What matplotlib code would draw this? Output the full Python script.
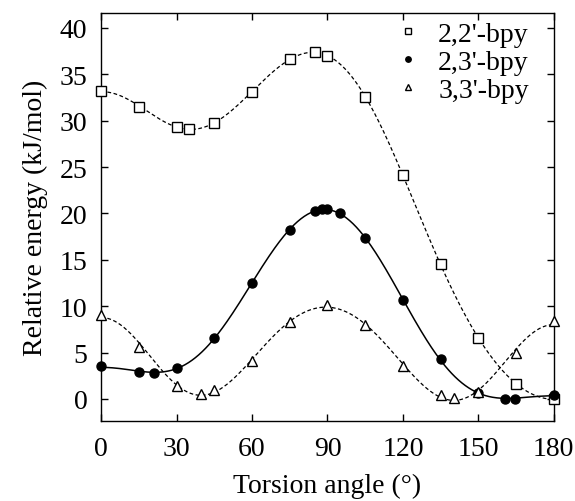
#!/usr/bin/env python3
import numpy as np
import matplotlib
matplotlib.use('agg')
import matplotlib.pyplot as plt

plt.rcParams['font.family'] = ['Liberation Serif', 'DejaVu Serif']

# torsion scans, relative energy in kJ/mol
bpy22_angle = [0, 15, 30, 35, 45, 60, 75, 85, 90, 105, 120, 135, 150, 165, 180]
bpy22_energy = [33.2, 31.5, 29.3, 29.1, 29.8, 33.1, 36.6, 37.4, 37.0, 32.6, 24.1, 14.5, 6.6, 1.6, 0.0]

bpy23_angle = [0, 15, 21, 30, 45, 60, 75, 85, 88, 90, 95, 105, 120, 135, 150, 160.5, 164.5, 180]
bpy23_energy = [3.5, 2.9, 2.8, 3.3, 6.6, 12.5, 18.2, 20.3, 20.45, 20.45, 20.0, 17.3, 10.7, 4.25, 0.65, 0.0, 0.0, 0.43]

bpy33_angle = [0, 15, 30, 39.5, 45, 60, 75, 90, 105, 120, 135, 140.5, 150, 165, 180]
bpy33_energy = [9.1, 5.65, 1.4, 0.55, 0.93, 4.07, 8.25, 10.15, 8.0, 3.5, 0.4, 0.05, 0.8, 4.94, 8.36]


def cos_fit(angle, energy, nterms=7):
    # least-squares fit of V(phi) = sum a_n cos(n phi)
    phi = np.radians(np.asarray(angle, dtype=float))
    A = np.column_stack([np.cos(n * phi) for n in range(nterms)])
    coef, *_ = np.linalg.lstsq(A, np.asarray(energy), rcond=None)
    xs = np.linspace(0, 180, 400)
    B = np.column_stack([np.cos(n * np.radians(xs)) for n in range(nterms)])
    return xs, B @ coef


fig, ax = plt.subplots(figsize=(5.75, 5.02), dpi=100)
fig.subplots_adjust(left=0.176, right=0.963, top=0.972, bottom=0.159)

dash = (0, (3, 2))
xs, ys = cos_fit(bpy22_angle, bpy22_energy, 8)
ax.plot(xs, ys, color='black', lw=0.9, linestyle=dash)
xs, ys = cos_fit(bpy23_angle, bpy23_energy, 8)
ax.plot(xs, ys, color='black', lw=1.1, linestyle='-')
xs, ys = cos_fit(bpy33_angle, bpy33_energy, 8)
ax.plot(xs, ys, color='black', lw=0.9, linestyle=dash)

ax.plot(bpy22_angle, bpy22_energy, 's', ms=6.5, mfc='white', mec='black', mew=1.0,
        label="2,2'-bpy", clip_on=False, zorder=3)
ax.plot(bpy23_angle, bpy23_energy, 'o', ms=6.5, mfc='black', mec='black',
        label="2,3'-bpy", clip_on=False, zorder=3)
ax.plot(bpy33_angle, bpy33_energy, '^', ms=6.5, mfc='white', mec='black', mew=1.0,
        label="3,3'-bpy", clip_on=False, zorder=3)

ax.set_xlim(0, 180)
ax.set_ylim(-2.4, 41.6)
ax.set_xticks(np.arange(0, 181, 30))
ax.set_yticks(np.arange(0, 41, 5))
ax.tick_params(direction='in', top=True, right=True, length=5, width=1,
               labelsize=20)
ax.tick_params(axis='x', pad=11)
ax.tick_params(axis='y', pad=10)
ax.set_xlabel('Torsion angle (°)', fontsize=20, labelpad=8)
ax.set_ylabel('Relative energy (kJ/mol)', fontsize=20, labelpad=8)
for s in ax.spines.values():
    s.set_linewidth(1.0)

ax.legend(loc='upper right', bbox_to_anchor=(0.945, 0.98), frameon=False,
          fontsize=20, markerscale=0.6, handletextpad=0.6, labelspacing=0.09,
          borderaxespad=0, borderpad=0, handlelength=1.0)

fig.savefig('out.png')
